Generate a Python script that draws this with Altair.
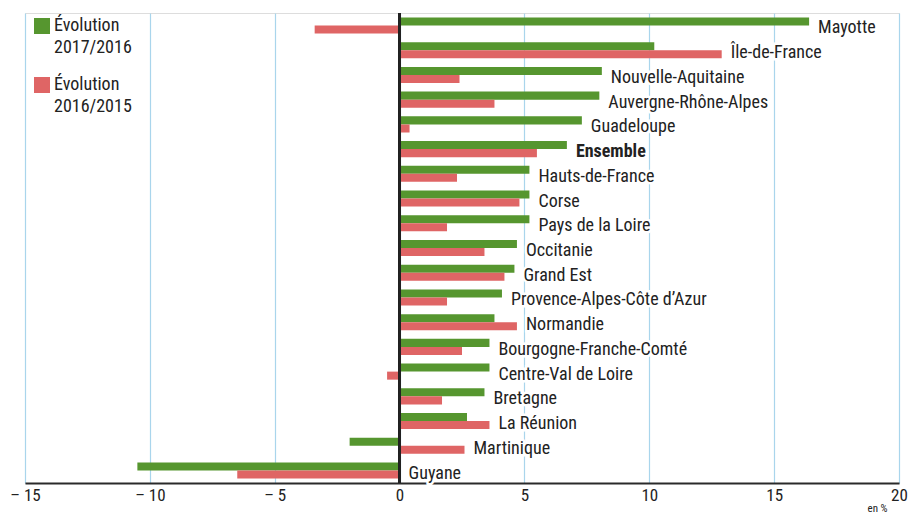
import altair as alt
import pandas as pd

regions = ["Mayotte", "Île-de-France", "Nouvelle-Aquitaine", "Auvergne-Rhône-Alpes",
           "Guadeloupe", "Ensemble", "Hauts-de-France", "Corse", "Pays de la Loire",
           "Occitanie", "Grand Est", "Provence-Alpes-Côte d’Azur", "Normandie",
           "Bourgogne-Franche-Comté", "Centre-Val de Loire", "Bretagne", "La Réunion",
           "Martinique", "Guyane"]
evo_2017 = [16.4, 10.2, 8.1, 8.0, 7.3, 6.7, 5.2, 5.2, 5.2, 4.7, 4.6, 4.1, 3.8,
            3.6, 3.6, 3.4, 2.7, -2.0, -10.5]
evo_2016 = [-3.4, 12.9, 2.4, 3.8, 0.4, 5.5, 2.3, 4.8, 1.9, 3.4, 4.2, 1.9, 4.7,
            2.5, -0.5, 1.7, 3.6, 2.6, -6.5]
series = ["Évolution 2017/2016", "Évolution 2016/2015"]
colors = ["#56962f", "#df6565"]
ticks = [-15, -10, -5, 0, 5, 10, 15, 20]

FONT = "Roboto Condensed, Roboto, sans-serif"
FS = 18

wide = pd.DataFrame({"region": regions, "a": evo_2017, "b": evo_2016})
wide["labx"] = wide[["a", "b"]].clip(lower=0).max(axis=1)
long = pd.concat([
    pd.DataFrame({"region": regions, "serie": series[0], "val": evo_2017}),
    pd.DataFrame({"region": regions, "serie": series[1], "val": evo_2016}),
])

yscale = alt.Scale(domain=regions, paddingInner=0.35, paddingOuter=0.18)

bars = alt.Chart(long).mark_bar().encode(
    x=alt.X("val:Q", scale=alt.Scale(domain=[-15, 20], nice=False),
            axis=alt.Axis(values=ticks, grid=True, gridColor="#a9d5ec", gridWidth=1.2,
                          domainColor="#2a2a2a", domainWidth=2, ticks=False,
                          labelFontSize=17, labelColor="#222", labelFont=FONT,
                          labelPadding=4, labelFlush=False, labelOverlap=False,
                          labelExpr="datum.value < 0 ? '– ' + abs(datum.value) : datum.value",
                          title="en %", titleFont=FONT, titleFontSize=11,
                          titleFontWeight="normal", titleColor="#222",
                          titleAnchor="end", titleAlign="right", titleBaseline="bottom",
                          titleX=862, titleY=30)),
    y=alt.Y("region:N", scale=yscale, axis=None),
    yOffset=alt.YOffset("serie:N", sort=series, scale=alt.Scale(domain=series, paddingInner=0, paddingOuter=0)),
    color=alt.Color("serie:N", scale=alt.Scale(domain=series, range=colors),
                    legend=alt.Legend(title=None, orient="none", legendX=8, legendY=4,
                                      symbolType="square", symbolSize=256,
                                      symbolStrokeWidth=0, symbolOpacity=1,
                                      labelFont=FONT, labelFontSize=FS, labelColor="#222",
                                      labelLimit=0, labelExpr="split(datum.label, ' ')",
                                      rowPadding=19, labelOffset=3,
                                      fillColor="white")),
)

zero = alt.Chart(wide).mark_rule(color="#222", strokeWidth=2).encode(x=alt.datum(0))

base_txt = alt.Chart(wide).encode(
    x=alt.X("labx:Q"),
    y=alt.Y("region:N", scale=yscale),
    text="region:N",
)
common = dict(align="left", dx=9, dy=3, font=FONT, fontSize=FS)
halo = base_txt.mark_text(color="white", stroke="white", strokeWidth=5, **common).transform_filter(
    alt.datum.region != "Ensemble")
txt = base_txt.mark_text(color="#222", **common).transform_filter(alt.datum.region != "Ensemble")
halo_b = base_txt.mark_text(fontWeight="bold", color="white", stroke="white", strokeWidth=5,
                            **common).transform_filter(alt.datum.region == "Ensemble")
txt_b = base_txt.mark_text(fontWeight="bold", color="#222", **common).transform_filter(
    alt.datum.region == "Ensemble")

chart = alt.layer(bars, halo, txt, halo_b, txt_b, zero).properties(
    width=874, height=470,
    autosize=alt.AutoSizeParams(type="none"),
    padding={"left": 17, "top": 5, "right": 10, "bottom": 30},
    background="white",
).configure_view(strokeWidth=0).configure(style={"guide-label": {"lineHeight": 22}})

chart.save("out.html", embed_options={"renderer": "svg", "actions": False})
